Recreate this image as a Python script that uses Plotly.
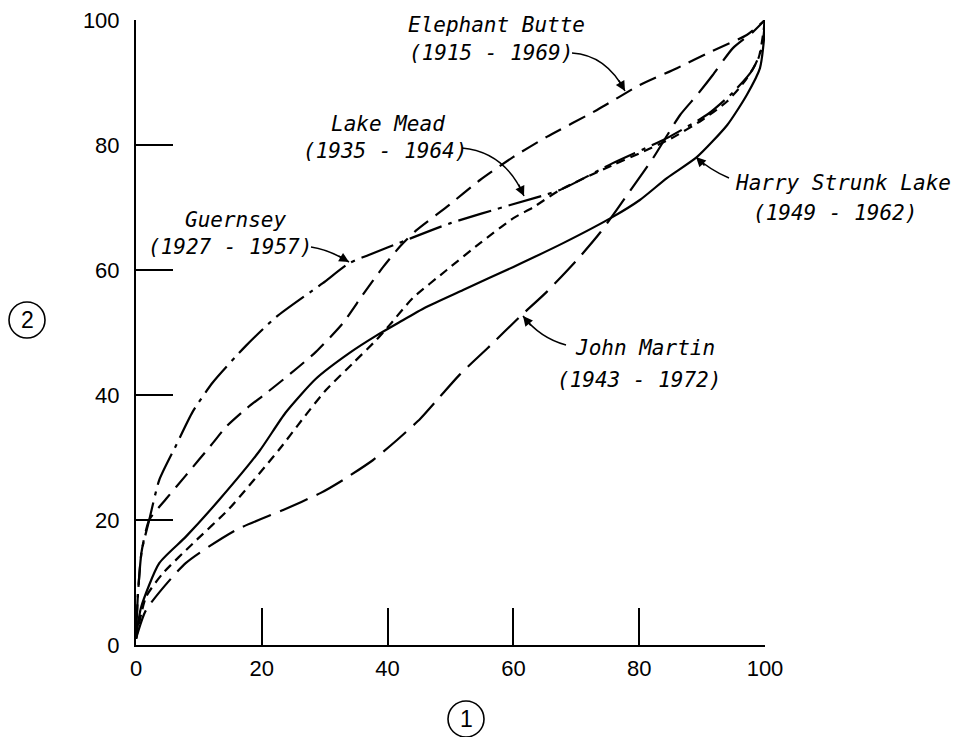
import plotly.graph_objects as go

# ---------------- data ----------------
guernsey_x = [0, 0.3, 0.9, 2.1, 3.7, 6.4, 9, 12.2, 17.5, 22.3, 29.7, 33.9, 37, 43, 50, 59.5, 67.4, 75.8, 84.4, 91, 95, 98, 99.5, 100]
guernsey_y = [1, 8, 15, 20, 26.4, 32, 37.3, 42, 47.9, 52.5, 57.9, 61.1, 62.4, 64.8, 67.5, 70.4, 72.8, 77.1, 81.1, 85, 88.5, 92, 95.5, 100]

elephant_x = [0, 0.3, 0.9, 2.1, 4.8, 7.9, 12.2, 14.3, 17.5, 20.7, 24.3, 28.6, 32.9, 36.1, 39.3, 42, 44.5, 49.4, 54.7, 60, 65.3, 73.3, 80.1, 86, 91.3, 97.1, 100]
elephant_y = [1, 8, 15, 20, 23.4, 27.1, 32.3, 34.9, 37.8, 40.3, 43.2, 46.9, 51.5, 56.1, 60.5, 63.8, 66.3, 70.1, 74.4, 78.1, 81.3, 85.6, 89.6, 92.3, 94.9, 97.6, 100]

mead_x = [0, 1.6, 4.3, 9.1, 14.8, 22.7, 26.6, 30.2, 34.5, 38.2, 40.4, 44, 49.4, 54.7, 60, 63.1, 67.4, 75.8, 80.1, 85, 90, 94, 97, 99, 100]
mead_y = [1, 7.7, 11.5, 16.3, 21.8, 31.2, 36.3, 40.8, 45.1, 48.8, 51.3, 55.5, 60, 64.3, 68.3, 70, 72.8, 76.8, 78.7, 81, 84, 87, 90.5, 94, 100]

strunk_x = [0, 0.8, 3.7, 7.9, 13.2, 19.6, 23.8, 28.6, 33.9, 38.2, 41.8, 46, 52, 60, 67.9, 75.8, 80.1, 84.4, 89.2, 94, 97.1, 99.2, 99.8, 100]
strunk_y = [1, 6, 13.1, 17.3, 23.2, 31.0, 37.2, 42.6, 46.7, 49.5, 51.6, 54, 56.8, 60.5, 64.3, 68.5, 71.2, 74.7, 78.1, 83.2, 88, 92.3, 96.5, 100]

martin_x = [0, 1.6, 7.9, 15.9, 23.4, 29.3, 32.9, 37.7, 41.5, 45.2, 48.3, 51.5, 55.8, 61, 65.3, 70.1, 73.8, 79, 82.2, 86.5, 89.2, 91.7, 94.9, 98.1, 100]
martin_y = [1, 5.6, 13.1, 18.4, 21.6, 24.3, 26.4, 29.6, 32.8, 36.2, 39.7, 43.3, 47.4, 52.5, 56.5, 61.6, 66.0, 73.3, 77.9, 84.8, 88, 91.2, 95.5, 98.1, 100]

tick_vals = [0, 20, 40, 60, 80, 100]
tick_text = ["0", "20", "40", "60", "80", "100"]

# ---------------- layout geometry ----------------
W, H = 961, 737
L, R, T, B = 136, 196, 20, 92
PW, PH = W - L - R, H - T - B


def d(px, py):
    """pixel -> data coordinates"""
    return (px - L) / PW * 100, (T + PH - py) / PH * 100


def p(px, py):
    """pixel -> paper coordinates"""
    return (px - L) / PW, (T + PH - py) / PH


fig = go.Figure()

series = [
    (guernsey_x, guernsey_y, "34px,7px,4px,7px"),
    (elephant_x, elephant_y, "18px,9px"),
    (mead_x, mead_y, "9px,6px"),
    (strunk_x, strunk_y, "solid"),
    (martin_x, martin_y, "30px,10px"),
]
for xs, ys, dash in series:
    fig.add_trace(go.Scatter(
        x=xs, y=ys, mode="lines",
        line=dict(color="black", width=2.2, dash=dash, shape="spline", smoothing=0.6),
        showlegend=False, hoverinfo="skip",
    ))

lab_font = dict(family="DejaVu Sans Mono", size=21, color="black", style="italic")

labels = [
    ("Elephant Butte", 496, 25), ("(1915 - 1969)", 491, 53),
    ("Lake Mead", 388, 124), ("(1935 - 1964)", 385, 151),
    ("Guernsey", 236, 220), ("(1927 - 1957)", 230, 247),
    ("Harry Strunk Lake", 843, 183), ("(1949 - 1962)", 835, 213),
    ("John Martin", 645, 348), ("(1943 - 1972)", 639, 380),
]
for txt, px, py in labels:
    x, y = p(px, py)
    fig.add_annotation(x=x, y=y, xref="paper", yref="paper", text=txt, showarrow=False,
                       font=lab_font, xanchor="center", yanchor="middle")

# curved leader arrows: start, control, tip (pixels), arrowhead tail offset
arrows = [
    ((572, 53), (606, 55), (625, 91), (-7, -12)),
    ((462, 148), (505, 152), (524, 196), (-6, -13)),
    ((311, 247), (330, 250), (349, 262), (-12, -7)),
    ((729, 178), (710, 170), (696, 157), (10, 10)),
    ((566, 345), (540, 338), (523, 316), (9, 11)),
]
for s, c, e, (ax, ay) in arrows:
    sx, sy = d(*s)
    cx, cy = d(*c)
    ex, ey = d(*e)
    fig.add_shape(type="path", xref="x", yref="y",
                  path=f"M {sx},{sy} Q {cx},{cy} {ex},{ey}",
                  line=dict(color="black", width=1.5))
    fig.add_annotation(x=ex, y=ey, xref="x", yref="y", text="", showarrow=True,
                       ax=ax, ay=ay, arrowhead=2, arrowsize=1.3, arrowwidth=1.5,
                       arrowcolor="black")

# circled axis labels
for num, cxp, cyp in [("2", 27, 320), ("1", 466, 719)]:
    x0, y0 = p(cxp - 18, cyp + 18)
    x1, y1 = p(cxp + 18, cyp - 18)
    fig.add_shape(type="circle", xref="paper", yref="paper", x0=x0, y0=y0, x1=x1, y1=y1,
                  line=dict(color="black", width=1.6))
    xc, yc = p(cxp, cyp)
    fig.add_annotation(x=xc, y=yc, xref="paper", yref="paper", text=num, showarrow=False,
                       font=dict(family="Liberation Sans", size=23, color="black"),
                       xanchor="center", yanchor="middle")

axis_common = dict(
    range=[0, 100], tickvals=tick_vals, ticktext=tick_text,
    showgrid=False, zeroline=False, showline=True, linecolor="black", linewidth=2,
    ticks="inside", ticklen=37, tickwidth=2, tickcolor="black",
    tickfont=dict(family="Liberation Sans", size=22, color="black"),
    fixedrange=True,
)
fig.update_xaxes(**axis_common, ticklabelstandoff=3)
fig.update_yaxes(**axis_common, ticklabelstandoff=10)

fig.update_layout(
    width=W, height=H,
    margin=dict(l=L, r=R, t=T, b=B, autoexpand=False),
    paper_bgcolor="white", plot_bgcolor="white",
    showlegend=False,
)

fig.write_html("out.html", config={"displayModeBar": False},
               post_script="document.body.style.margin='0';document.body.style.overflow='hidden';")
